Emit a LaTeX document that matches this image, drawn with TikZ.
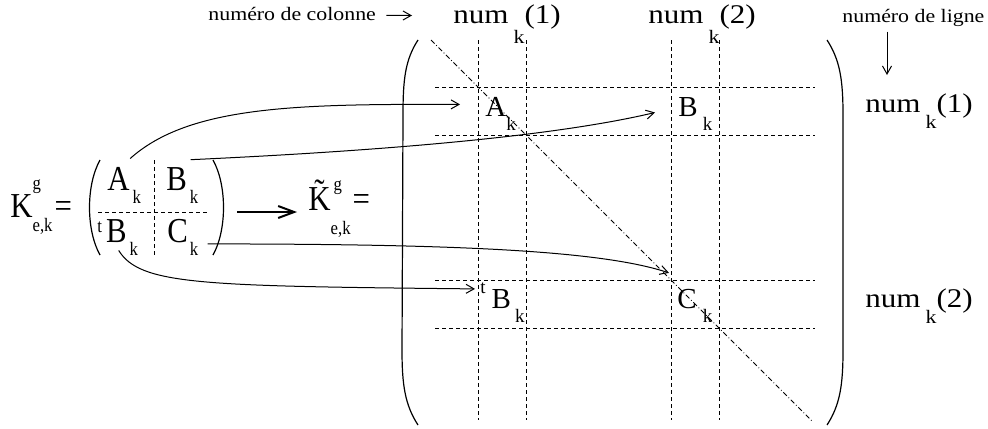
\documentclass[tikz,border=0pt]{standalone}
\usepackage{fontspec}
\setmainfont{Liberation Serif}
\newfontfamily\narrowserif[FakeStretch=0.88]{Liberation Serif}
\newfontfamily\wideserif[FakeStretch=1.15]{Liberation Serif}
\usetikzlibrary{arrows.meta}

\newcommand{\low}[2]{\raisebox{-#1}{\fontsize{9.5}{11}\selectfont #2}}
\newcommand{\high}[2]{\raisebox{#1}{\fontsize{9.5}{11}\selectfont #2}}

\begin{document}
\begin{tikzpicture}[x=0.5pt,y=-0.5pt,
  every node/.style={inner sep=0pt,anchor=base west},
  entry/.style={font=\fontsize{14.5}{17}\selectfont},
  leftentry/.style={font=\narrowserif\fontsize{17.5}{20}\selectfont},
  numlbl/.style={font=\wideserif\fontsize{13.5}{16}\selectfont},
  note/.style={font=\wideserif\fontsize{9.5}{11}\selectfont},
  conn/.style={line width=0.5pt,-{Straight Barb[length=4pt,width=4.5pt]}},
  gridline/.style={line width=0.4pt,dash pattern=on 2pt off 1.5pt},
  diagline/.style={line width=0.4pt,dash pattern=on 2.5pt off 1.2pt on 0.4pt off 1.2pt},
  paren/.style={line width=0.6pt}]
  \useasboundingbox (0,0) rectangle (988,428);
  % Small block matrix
  \draw[paren] (100,160) .. controls (86,185) and (86,230) .. (100,255);
  \draw[paren] (213,160) .. controls (227,185) and (227,230) .. (213,255);
  \draw[gridline] (154,160) -- (154,257);
  \draw[gridline] (98,212) -- (208,212);
  \node[leftentry] (K) at (10,217) {K\rlap{\high{14pt}{g}}\low{7pt}{e,k}\kern1pt=};
  \node[leftentry] (sA) at (107,190) {A\kern1.5pt\low{6.5pt}{k}};
  \node[leftentry] (sB) at (166,190) {B\kern1.5pt\low{6.5pt}{k}};
  \node[leftentry] (stB) at (97,242) {\high{5pt}{t}\kern2pt B\kern1.5pt\low{6.5pt}{k}};
  \node[leftentry] (sC) at (167,242) {C\kern1pt\low{6.5pt}{k}};
  % Arrow to the assembled matrix
  \coordinate (arrS) at (237,212);
  \coordinate (arrE) at (297,212);
  \draw[line width=1pt,-{Straight Barb[length=8pt,width=6pt]}] (arrS) -- (arrE);
  \node[leftentry] (Kt) at (308,210) {\~{K}\rlap{\kern1.5pt\high{10pt}{g}}\low{12pt}{e,k}\kern1pt=};
  % Big matrix
  \draw[paren] (418,40) .. controls (405,60) and (403,80) .. (403,115) -- (402,350)
    .. controls (402,385) and (405,405) .. (418,425);
  \draw[paren] (827,40) .. controls (840,60) and (843,80) .. (843,115) -- (843,350)
    .. controls (843,385) and (840,405) .. (827,425);
  \foreach \gx in {478,526,671,719} \draw[gridline] (\gx,40) -- (\gx,420);
  \foreach \gy in {87,135,280,328} \draw[gridline] (435,\gy) -- (815,\gy);
  \draw[diagline] (431,40) -- (813,422);
  \node[entry] (bA) at (485,116) {A\low{7pt}{k}};
  \node[entry] (bB) at (678,116) {B\kern2.5pt\low{7pt}{k}};
  \node[entry] (btB) at (480,308) {\high{7.5pt}{t}\kern3pt B\kern2pt\low{7pt}{k}};
  \node[entry] (bC) at (677,308) {C\kern3pt\low{7pt}{k}};
  % Row and column numbers
  \node[numlbl] (col1) at (453,23) {num\kern2.5pt\low{10pt}{k}(1)};
  \node[numlbl] (col2) at (648,23) {num\kern2.5pt\low{10pt}{k}(2)};
  \node[numlbl] (row1) at (865,112) {num\kern2.5pt\low{8pt}{k}(1)};
  \node[numlbl] (row2) at (865,307) {num\kern2.5pt\low{8pt}{k}(2)};
  \node[note] (colnote) at (208,20) {numéro de colonne};
  \coordinate (colarr) at (412,15.5);
  \draw[conn] ([shift={(10,2)}]colnote.east) -- (colarr);
  \node[note] (rownote) at (842,22) {numéro de ligne};
  \coordinate (rowarr) at (887,75);
  \coordinate (rowtop) at (rowarr |- rownote.south);
  \draw[conn] ([shift={(0,5)}]rowtop) -- (rowarr);
  % Blocks moved into place
  \draw[conn] ([shift={(6,-8)}]sA.north) .. controls (190,105) and (300,104) .. ([shift={(-25,-9)}]bA.west);
  \draw[conn] ([shift={(-8,-7)}]sB.north east) .. controls (400,150) and (560,135) .. ([shift={(-23,-1)}]bB.west);
  \draw[conn] ([shift={(9,7)}]sC.east) .. controls (450,244) and (600,250) .. ([shift={(-8,-15.5)}]bC.north west);
  \draw[conn] ([shift={(1,-5)}]stB.south) .. controls (140,285) and (200,286) .. ([shift={(-5,7)}]btB.north west);
\end{tikzpicture}
\end{document}
